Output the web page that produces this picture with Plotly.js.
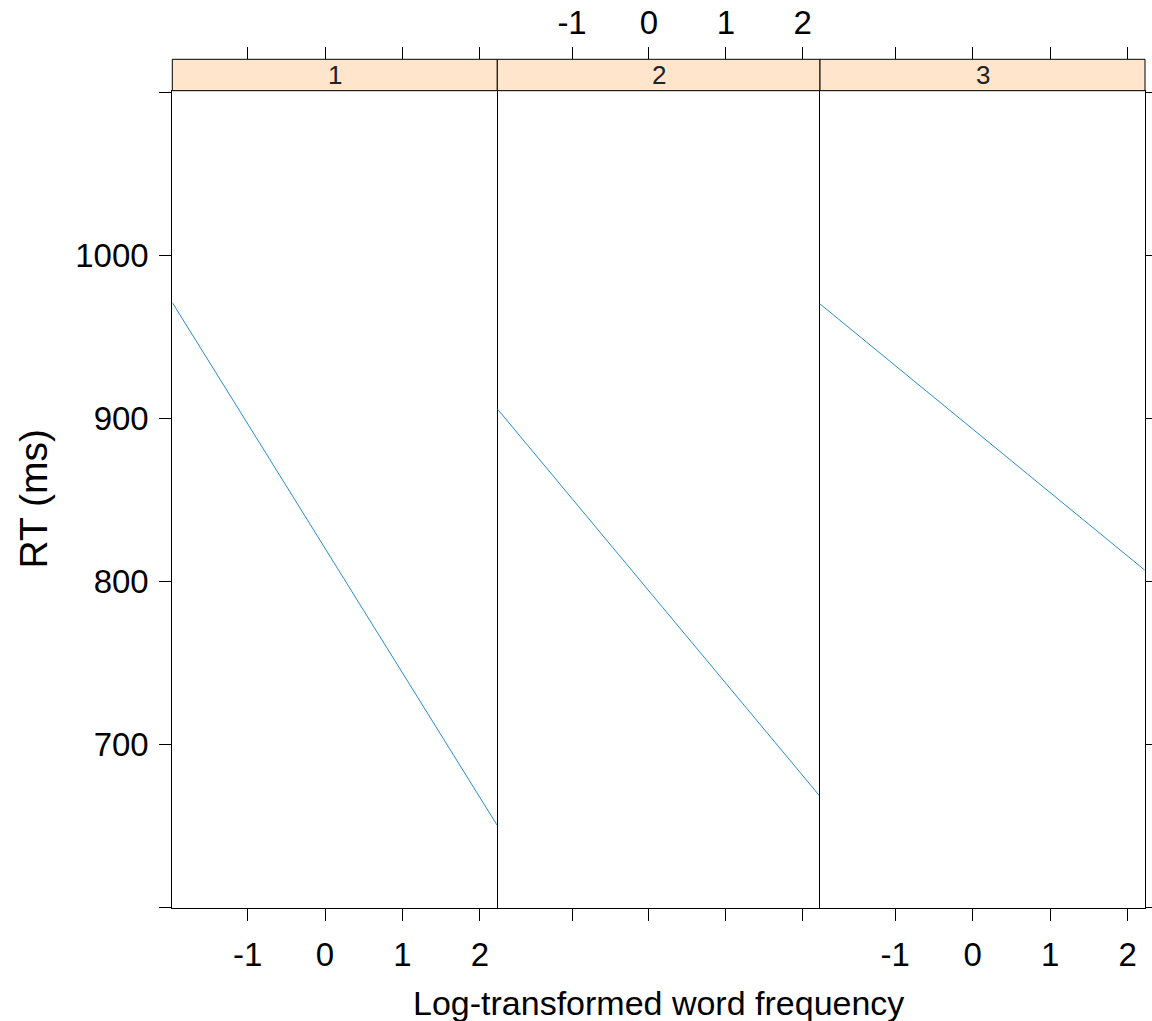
<!DOCTYPE html>
<html>
<head>
<meta charset="utf-8">
<script src="https://cdn.plot.ly/plotly-3.0.1.min.js"></script>
<style>html,body{margin:0;padding:0;background:#fff;}#plot{width:1152px;height:1021px;}</style>
</head>
<body>
<div id="plot"></div>
<script>
// ---- data ----
var panels = ["1", "2", "3"];
var freq = [-1.97, 2.22];
var rt1 = [970.7, 650.3];
var rt2 = [905.5, 668.1];
var rt3 = [969.9, 806.7];
var xTickVals = [-1, 0, 1, 2];
var xTickText = ["-1", "0", "1", "2"];
var yTickVals = [600, 700, 800, 900, 1000, 1100];
var yTickText = ["", "700", "800", "900", "1000", ""];
var xTitle = "Log-transformed word frequency";
var yTitle = "RT (ms)";

// ---- layout helpers (pixel -> paper) ----
var W = 1152, H = 1021;
function px(x) { return x / W; }
function py(y) { return 1 - y / H; }
var xDom = [[px(172.3), px(497.3)], [px(497.3), px(820)], [px(820), px(1145)]];
var yDom = [py(908.3), py(90.7)];
var stripTop = py(59.3), stripBot = py(90.7);
var xRange = [-1.972, 2.224];
var yRange = [599.2, 1100.8];
var FONT = "Liberation Sans, Arial, sans-serif";
var tickFont = {family: FONT, size: 33, color: "#000"};

var series = [rt1, rt2, rt3];
var traces = [];
for (var i = 0; i < 3; i++) {
  var xa = i === 0 ? "x" : "x" + (i + 1);
  var ya = i === 0 ? "y" : "y" + (i + 1);
  traces.push({x: freq, y: series[i], xaxis: xa, yaxis: ya, type: "scatter", mode: "lines",
    line: {color: "#2a8ad0", width: 1}, hoverinfo: "skip", showlegend: false});
  traces.push({x: freq, y: series[i], xaxis: "x" + (i + 4), yaxis: ya, type: "scatter", mode: "lines",
    line: {color: "rgba(0,0,0,0)", width: 0}, hoverinfo: "skip", showlegend: false});
}

var layout = {
  width: W, height: H,
  margin: {l: 0, r: 0, t: 0, b: 0},
  paper_bgcolor: "#fff", plot_bgcolor: "#fff",
  showlegend: false,
  shapes: [], annotations: []
};

for (var i = 0; i < 3; i++) {
  var n = i + 1;
  var xk = i === 0 ? "xaxis" : "xaxis" + n;
  var yk = i === 0 ? "yaxis" : "yaxis" + n;
  var ya = i === 0 ? "y" : "y" + n;
  var xa = i === 0 ? "x" : "x" + n;
  layout[xk] = {
    domain: xDom[i], range: xRange, anchor: ya, side: "bottom",
    showgrid: false, zeroline: false, showline: true, mirror: true,
    linecolor: "#000", linewidth: 1,
    ticks: "outside", ticklen: 12, tickwidth: 1, tickcolor: "#000",
    tickmode: "array", tickvals: xTickVals, ticktext: xTickText, ticklabelstandoff: 5,
    showticklabels: i !== 1, tickfont: tickFont, automargin: false, fixedrange: true
  };
  layout["xaxis" + (n + 3)] = {
    domain: xDom[i], range: xRange, overlaying: xa, anchor: "free", position: stripTop,
    side: "top", showgrid: false, zeroline: false, showline: false,
    ticks: "outside", ticklen: 12, tickwidth: 1, tickcolor: "#000",
    tickmode: "array", tickvals: xTickVals, ticktext: xTickText,
    showticklabels: i === 1, tickfont: tickFont, automargin: false, fixedrange: true
  };
  var yax = {
    domain: yDom, range: yRange, anchor: xa,
    showgrid: false, zeroline: false, showline: i !== 1, mirror: true,
    linecolor: "#000", linewidth: 1,
    tickmode: "array", tickvals: yTickVals, ticktext: yTickText,
    tickfont: tickFont, automargin: false, fixedrange: true
  };
  if (i === 0) {
    yax.side = "left"; yax.ticks = "outside"; yax.ticklen = 12; yax.tickwidth = 1; yax.tickcolor = "#000";
    yax.showticklabels = true; yax.ticklabelstandoff = 4;
  } else if (i === 2) {
    yax.side = "right"; yax.ticks = "outside"; yax.ticklen = 12; yax.tickwidth = 1; yax.tickcolor = "#000";
    yax.showticklabels = false;
  } else {
    yax.ticks = ""; yax.showticklabels = false;
  }
  layout[yk] = yax;

  layout.shapes.push({type: "rect", xref: "paper", yref: "paper",
    x0: xDom[i][0], x1: xDom[i][1], y0: stripBot, y1: stripTop,
    fillcolor: "#ffe5cc", line: {color: "#000", width: 1}, layer: "above"});
  layout.annotations.push({xref: "paper", yref: "paper",
    x: (xDom[i][0] + xDom[i][1]) / 2, y: (stripBot + stripTop) / 2,
    text: panels[i], showarrow: false, xanchor: "center", yanchor: "middle",
    font: {family: FONT, size: 26, color: "#222"}});
}

layout.annotations.push({xref: "paper", yref: "paper", x: (xDom[0][0] + xDom[2][1]) / 2, y: py(1003),
  text: xTitle, showarrow: false, xanchor: "center", yanchor: "middle",
  font: {family: FONT, size: 34, color: "#000"}});
layout.annotations.push({xref: "paper", yref: "paper", x: px(33), y: (yDom[0] + yDom[1]) / 2,
  text: yTitle, showarrow: false, xanchor: "center", yanchor: "middle", textangle: -90,
  font: {family: FONT, size: 39, color: "#000"}});

Plotly.newPlot("plot", traces, layout, {displayModeBar: false, staticPlot: true});
</script>
</body>
</html>
